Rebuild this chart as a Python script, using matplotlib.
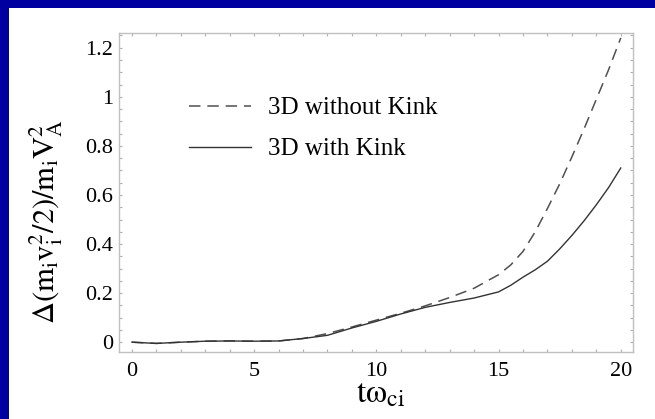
import matplotlib
matplotlib.use("Agg")
import matplotlib.pyplot as plt
from matplotlib.patches import Rectangle
from matplotlib.ticker import MultipleLocator

plt.rcParams['font.family'] = ['Liberation Serif', 'DejaVu Serif']
plt.rcParams['mathtext.fontset'] = 'stix'

# values
t = [0, 1, 2, 3, 4, 5, 6, 7, 8, 9, 10, 11, 12, 13, 14, 15, 15.5, 16, 16.5, 17,
     17.5, 18, 18.5, 19, 19.5, 20]
no_kink = [0.0, -0.005, 0.0, 0.004, 0.005, 0.004, 0.005, 0.015, 0.035, 0.062, 0.09,
           0.118, 0.148, 0.182, 0.22, 0.275, 0.315, 0.37, 0.45, 0.545, 0.645, 0.755,
           0.87, 0.99, 1.11, 1.24]
with_kink = [0.0, -0.005, 0.0, 0.004, 0.005, 0.004, 0.005, 0.015, 0.028, 0.058, 0.085,
             0.115, 0.142, 0.162, 0.18, 0.205, 0.232, 0.265, 0.295, 0.33, 0.38, 0.435,
             0.495, 0.56, 0.63, 0.71]
xticks = [0, 5, 10, 15, 20]
yticks = [0, 0.2, 0.4, 0.6, 0.8, 1.0, 1.2]
ytick_labels = ['0', '0.2', '0.4', '0.6', '0.8', '1', '1.2']

fig = plt.figure(figsize=(6.55, 4.19), dpi=100)
fig.patch.set_facecolor('#0000a0')
fig.patches.append(Rectangle((9 / 655, 0), 1, 411 / 419, transform=fig.transFigure,
                             facecolor='white', edgecolor='none', zorder=-5))

ax = fig.add_axes([0.1817, 0.1599, 0.7847, 0.7613])
ax.set_zorder(2)
ax.plot(t, no_kink, color='#505050', lw=1.1, dashes=(7.5, 4.5), label='3D without Kink')
ax.plot(t, with_kink, color='#333333', lw=1.0, label='3D with Kink')

ax.set_xlim(-0.53, 20.5)
ax.set_ylim(-0.04, 1.26)
ax.set_xticks(xticks)
ax.set_yticks(yticks)
ax.set_yticklabels(ytick_labels)
ax.xaxis.set_minor_locator(MultipleLocator(1))
ax.yaxis.set_minor_locator(MultipleLocator(0.05))
ax.tick_params(which='both', direction='in', top=True, right=True, color='#b0b0b0',
               length=2.5, width=0.8, labelsize=16, labelcolor='black')
ax.tick_params(axis='x', pad=7)
ax.tick_params(axis='y', pad=4)
for s in ax.spines.values():
    s.set_color('#c0c0c0')
    s.set_linewidth(1.0)

ax.set_xlabel(r'$\mathrm{t\omega_{ci}}$', fontsize=24)
ax.xaxis.set_label_coords(0.508, -0.085)
ax.set_ylabel(r'$\Delta(\mathrm{m_i v_i^2/2})/\mathrm{m_i V_A^2}$', fontsize=22)
ax.yaxis.set_label_coords(-0.105, 0.41)

ax.legend(loc='upper left', bbox_to_anchor=(0.092, 0.87), frameon=False, fontsize=18,
          handlelength=2.5, handletextpad=0.68, labelspacing=0.74)

fig.savefig('out.png', dpi=100, facecolor=fig.get_facecolor())
